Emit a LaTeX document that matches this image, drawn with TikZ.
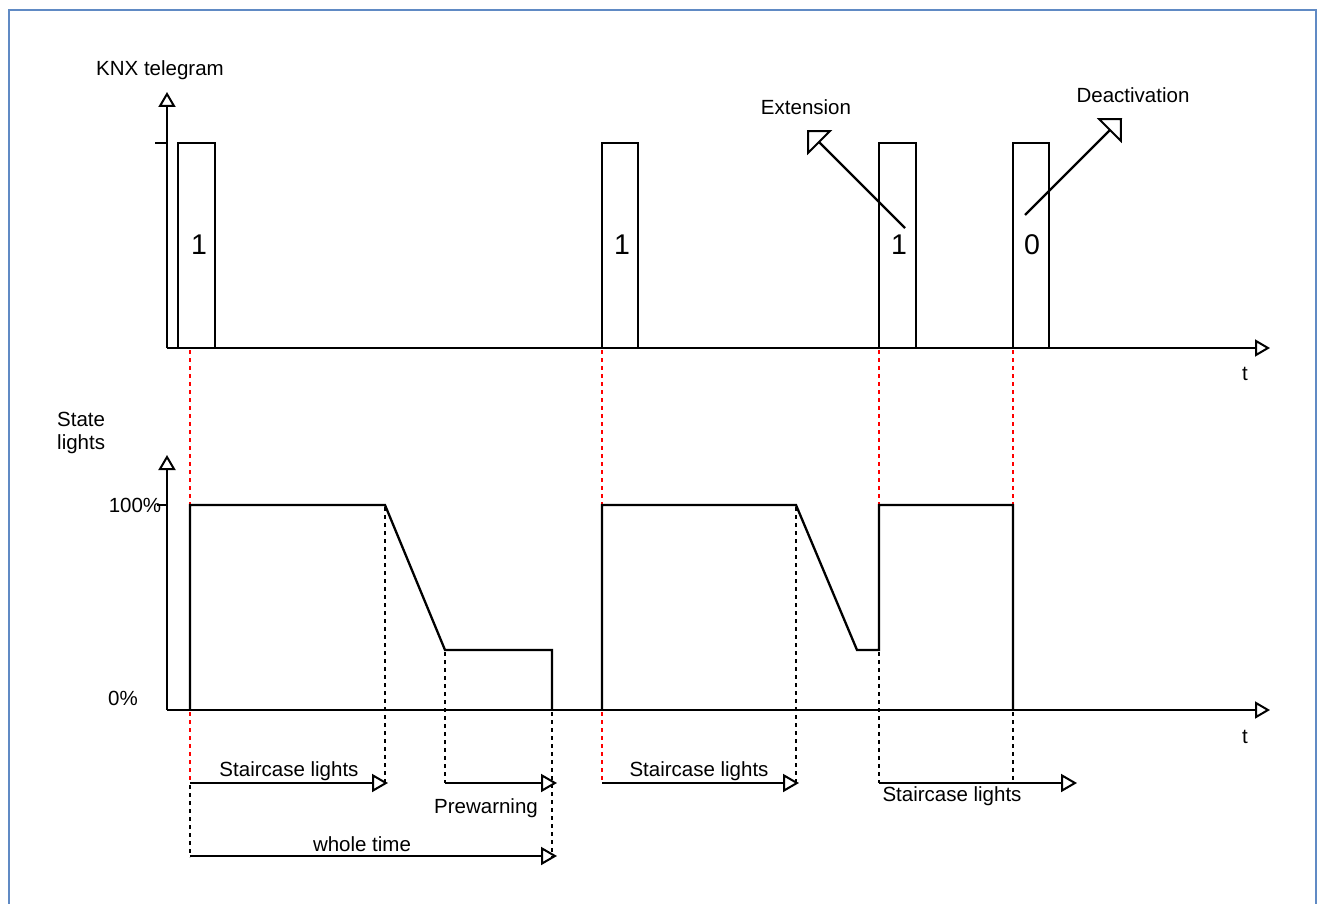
\documentclass[tikz,border=0pt]{standalone}
\usepackage{fontspec}
\setmainfont{Liberation Sans}
\usetikzlibrary{arrows.meta}
\newcommand\lblfont{\fontsize{20.5}{23.5}\selectfont}
\newcommand\digfont{\fontsize{28.5}{32}\selectfont}
\definecolor{framecol}{RGB}{96,138,196}
\tikzset{
  wave/.style={line width=2.3pt, line join=miter},
  axisline/.style={line width=2.3pt, -{Triangle[open,length=15pt,width=17pt,line width=2pt]}},
  timearrow/.style={line width=2.3pt, -{Triangle[open,length=16pt,width=18pt,line width=2pt]}},
  callout/.style={line width=2.3pt, -{Triangle[open,length=18pt,width=35pt,line width=2pt]}},
  reddash/.style={red, line width=2.3pt, dash pattern=on 4pt off 4pt},
  blackdot/.style={black, line width=2.3pt, dash pattern=on 4pt off 4pt},
  lbl/.style={font=\lblfont, inner sep=0pt},
  dig/.style={font=\digfont, inner sep=0pt}
}
\begin{document}
\begin{tikzpicture}[x=1pt,y=-1pt]
\useasboundingbox (0,0) rectangle (1320,904);
% frame
\draw[framecol, line width=2.8pt] (9,915) -- (9,10) -- (1316,10) -- (1316,915);

% ---------- top chart ----------
\coordinate (o1) at (167,348);
\coordinate (ytop1) at (167,92);
\coordinate (xend1) at (1270,348);
\draw[axisline] (o1) -- (ytop1);
\draw[axisline] (o1) -- (xend1);
\draw[line width=2.3pt] (155,143) -- (167,143);
\node[lbl] (knx) at (160,70) {KNX telegram};
\node[lbl] (t1) at (1245,374) {t};

% pulses
\draw[wave] (178,348) -- (178,143) -- (215,143) -- (215,348);
\draw[wave] (602,348) -- (602,143) -- (638,143) -- (638,348);
\draw[wave] (879,348) -- (879,143) -- (916,143) -- (916,348);
\draw[wave] (1013,348) -- (1013,143) -- (1049,143) -- (1049,348);
\node[dig] (p1) at (199,245) {1};
\node[dig] (p2) at (622,245) {1};
\node[dig] (p3) at (899,245) {1};
\node[dig] (p4) at (1032,245) {0};

% callouts
\coordinate (extS) at (905,228);
\coordinate (extE) at (807,130);
\draw[callout] (extS) -- (extE);
\node[lbl] (ext) at (806,107) {Extension};
\coordinate (deaS) at (1025,215);
\coordinate (deaE) at (1122,118);
\draw[callout] (deaS) -- (deaE);
\node[lbl] (dea) at (1133,95) {Deactivation};

% red guides between charts
\draw[reddash] (190,350) -- (190,505);
\draw[reddash] (602,350) -- (602,505);
\draw[reddash] (879,350) -- (879,505);
\draw[reddash] (1013,350) -- (1013,505);

% ---------- bottom chart ----------
\coordinate (o2) at (167,710);
\coordinate (ytop2) at (167,455);
\coordinate (xend2) at (1270,710);
\draw[axisline] (o2) -- (ytop2);
\draw[axisline] (o2) -- (xend2);
\draw[line width=2.3pt] (157,505) -- (167,505);
\node[lbl, align=left, anchor=west] (state) at (57,433) {State\\lights};
\node[lbl] (p100) at (135,505) {100\%};
\node[lbl] (p0) at (123,698) {0\%};
\node[lbl] (t2) at (1245,737) {t};

% state waveform
\draw[wave] (190,710) -- (190,505) -- (385,505) -- (445,650) -- (552,650) -- (552,710);
\draw[wave] (602,710) -- (602,505) -- (796,505) -- (857,650) -- (879,650) -- (879,505) -- (1013,505) -- (1013,710);

% guides below
\draw[reddash] (190,712) -- (190,783);
\draw[reddash] (602,712) -- (602,783);
\draw[blackdot] (190,785) -- (190,857);
\draw[blackdot] (385,507) -- (385,783);
\draw[blackdot] (445,652) -- (445,783);
\draw[blackdot] (552,712) -- (552,857);
\draw[blackdot] (796,507) -- (796,783);
\draw[blackdot] (879,652) -- (879,783);
\draw[blackdot] (1013,712) -- (1013,783);

% time arrows
\coordinate (a1s) at (190,783); \coordinate (a1e) at (388,783);
\coordinate (a2s) at (445,783); \coordinate (a2e) at (557,783);
\coordinate (a3s) at (190,856); \coordinate (a3e) at (557,856);
\coordinate (a4s) at (602,783); \coordinate (a4e) at (799,783);
\coordinate (a5s) at (879,783); \coordinate (a5e) at (1077,783);
\draw[timearrow] (a1s) -- (a1e);
\draw[timearrow] (a2s) -- (a2e);
\draw[timearrow] (a3s) -- (a3e);
\draw[timearrow] (a4s) -- (a4e);
\draw[timearrow] (a5s) -- (a5e);
\node[lbl] (l1) at (289,771) {Staircase lights};
\node[lbl] (l2) at (486,808) {Prewarning};
\node[lbl] (l3) at (362,844) {whole time};
\node[lbl] (l4) at (699,771) {Staircase lights};
\node[lbl] (l5) at (952,796) {Staircase lights};
\end{tikzpicture}
\end{document}
